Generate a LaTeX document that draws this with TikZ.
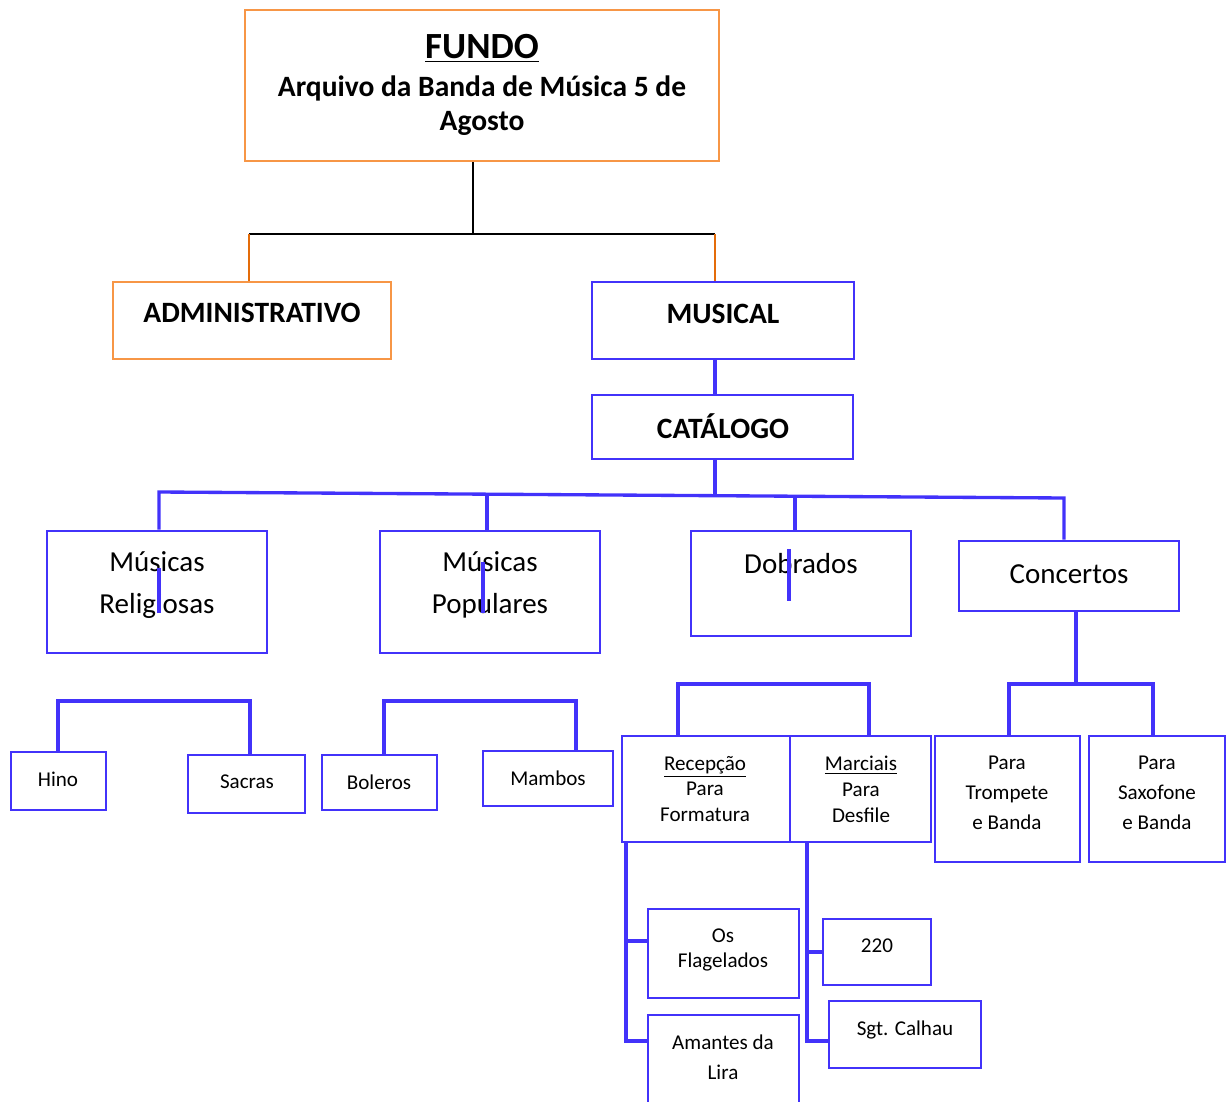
\documentclass[tikz,border=0pt]{standalone}
\usepackage{fontspec}
\setmainfont{Carlito}
\usepackage{tikz}
\usepackage{xcolor}
\usetikzlibrary{positioning, fit}
\definecolor{arqblue}{RGB}{66, 50, 250}
\definecolor{arqorange}{RGB}{247, 150, 70}
\definecolor{arqodark}{RGB}{228, 108, 10}
\tikzset{
    bluebox/.style={draw=arqblue, line width=1.6pt, inner sep=0pt},
    orangebox/.style={draw=arqorange, line width=1.5pt, inner sep=0pt},
    blueline/.style={draw=arqblue, line width=1.9pt},
    blackline/.style={draw=black, line width=0.9pt},
    orangeline/.style={draw=arqodark, line width=0.9pt},
    titletxt/.style={font=\bfseries\fontsize{16.8}{19.5}\selectfont, align=center, inner sep=0pt},
    bigtxt/.style={font=\fontsize{16.5}{23.8}\selectfont, align=center, inner sep=0pt},
    smalltxt/.style={font=\fontsize{12}{14.7}\selectfont, align=center, inner sep=0pt},
    widetxt/.style={font=\fontsize{12}{17}\selectfont, align=center, inner sep=0pt}
}

\begin{document}
\begin{tikzpicture}[x=0.02cm, y=-0.02cm]
                    \useasboundingbox (0,0) rectangle (1232,1102);
                    % boxes
                    \node[orangebox, fit={(245,10) (719,161)}] (fundo) {};
                    \node[orangebox, fit={(113,282) (391,359)}] (admin) {};
                    \node[bluebox, fit={(592,282) (854,359)}] (musical) {};
                    \node[bluebox, fit={(592,395) (853,459)}] (catalogo) {};
                    \node[bluebox, fit={(47,531) (267,653)}] (relig) {};
                    \node[bluebox, fit={(380,531) (600,653)}] (popul) {};
                    \node[bluebox, fit={(691,531) (911,636)}] (dobr) {};
                    \node[bluebox, fit={(959,541) (1179,611)}] (conc) {};
                    \node[bluebox, fit={(11,752) (106,810)}] (hino) {};
                    \node[bluebox, fit={(188,755) (305,813)}] (sacras) {};
                    \node[bluebox, fit={(322,755) (437,810)}] (boleros) {};
                    \node[bluebox, fit={(483,751) (613,806)}] (mambos) {};
                    \node[bluebox, fit={(622,736) (790,842)}] (recep) {};
                    \node[bluebox, fit={(790,736) (931,842)}] (marc) {};
                    \node[bluebox, fit={(935,736) (1080,862)}] (tromp) {};
                    \node[bluebox, fit={(1089,736) (1225,862)}] (saxo) {};
                    \node[bluebox, fit={(648,909) (799,998)}] (flag) {};
                    \node[bluebox, fit={(648,1015) (799,1110)}] (amantes) {};
                    \node[bluebox, fit={(823,919) (931,985)}] (dois) {};
                    \node[bluebox, fit={(829,1001) (981,1068)}] (calhau) {};

                    % texts
                    \node[titletxt, font=\bfseries\fontsize{21}{24}\selectfont] (fundohead) at (482,48) {\underline{FUNDO}};
                    \node[titletxt] (fundosub) at (482,106) {Arquivo da Banda de Música 5 de\\Agosto};
                    \node[titletxt] (admintxt) at (252,313) {ADMINISTRATIVO};
                    \node[titletxt] (musicaltxt) at (723,314) {MUSICAL};
                    \node[titletxt] (catalogotxt) at (723,426) {CATÁLOGO};
                    \node[bigtxt] (religtxt) at (157,585) {Músicas\\Religiosas};
                    \node[bigtxt] (popultxt) at (490,585) {Músicas\\Populares};
                    \node[bigtxt] (dobrtxt) at (801,564) {Dobrados};
                    \node[bigtxt] (conctxt) at (1069,574) {Concertos};
                    \node[smalltxt] (hinotxt) at (58,779) {Hino};
                    \node[smalltxt] (sacrastxt) at (247,782) {Sacras};
                    \node[smalltxt] (bolerostxt) at (379,782) {Boleros};
                    \node[smalltxt] (mambostxt) at (548,778) {Mambos};
                    \node[smalltxt] (receptxt) at (705,789) {\underline{Recepção}\\Para\\Formatura};
                    \node[smalltxt] (marctxt) at (861,789) {\underline{Marciais}\\Para\\Desfile};
                    \node[widetxt] (tromptxt) at (1007,793) {Para\\Trompete\\e Banda};
                    \node[widetxt] (saxotxt) at (1157,793) {Para\\Saxofone\\e Banda};
                    \node[smalltxt, font=\fontsize{12}{14.2}\selectfont] (flagtxt) at (723,950) {Os\\Flagelados};
                    \node[widetxt] (amantestxt) at (723,1057) {Amantes da\\Lira};
                    \node[smalltxt] (doistxt) at (877,946) {220};
                    \node[smalltxt] (calhautxt) at (905,1030) {Sgt. Calhau};

                    % junctions
                    \coordinate (topj) at (473,234);
                    \coordinate (adminj) at (249,234);
                    \coordinate (musj) at (715,234);
                    \coordinate (catj) at (715,495);
                    \coordinate (religj) at (159,492);
                    \coordinate (popj) at (487,494);
                    \coordinate (dobj) at (795,496);
                    \coordinate (concj) at (1064,498);
                    \coordinate (hinoj) at (58,701);
                    \coordinate (sacrasj) at (250,701);
                    \coordinate (bolj) at (384,701);
                    \coordinate (mambj) at (576,701);
                    \coordinate (recj) at (678,684);
                    \coordinate (marcj) at (869,684);
                    \coordinate (ctrj) at (1076,684);
                    \coordinate (trompj) at (1009,684);
                    \coordinate (saxoj) at (1153,684);
                    \coordinate (rflag) at (626,941);
                    \coordinate (ramant) at (626,1041);
                    \coordinate (mcalhau) at (807,1041);

                    % connectors
                    \draw[blackline] (fundo.south -| topj) -- (topj);
                    \draw[blackline] (adminj) -- (musj);
                    \draw[orangeline] (adminj) -- (adminj |- admin.north);
                    \draw[orangeline] (musj) -- (musj |- musical.north);
                    \draw[blueline] (musical.south -| musj) -- (catalogo.north -| musj);
                    \draw[blueline] (catalogo.south -| catj) -- (catj);
                    \draw[blueline] (religj |- relig.north) -- (religj) -- (concj) -- (concj |- conc.north);
                    \draw[blueline] (popj) -- (popj |- popul.north);
                    \draw[blueline] (dobj) -- (dobj |- dobr.north);
                    \draw[blueline] (hinoj |- hino.north) -- (hinoj) -- (sacrasj) -- (sacrasj |- sacras.north);
                    \draw[blueline] (bolj |- boleros.north) -- (bolj) -- (mambj) -- (mambj |- mambos.north);
                    \draw[blueline] (recj |- recep.north) -- (recj) -- (marcj) -- (marcj |- marc.north);
                    \draw[blueline] (conc.south -| ctrj) -- (ctrj);
                    \draw[blueline] (trompj |- tromp.north) -- (trompj) -- (saxoj) -- (saxoj |- saxo.north);
                    \draw[blueline] (recep.south -| ramant) -- (ramant) -- (ramant -| amantes.west);
                    \draw[blueline] (rflag) -- (rflag -| flag.west);
                    \draw[blueline] (marc.south -| mcalhau) -- (mcalhau) -- (mcalhau -| calhau.west);
                    \draw[blueline] (mcalhau |- dois.west) -- (dois.west);

                    % stray strokes
                    \draw[blueline] (159,568) -- (159,613);
                    \draw[blueline] (483,562) -- (483,613);
                    \draw[blueline] (789,549) -- (789,601);
                \end{tikzpicture}
\end{document}
